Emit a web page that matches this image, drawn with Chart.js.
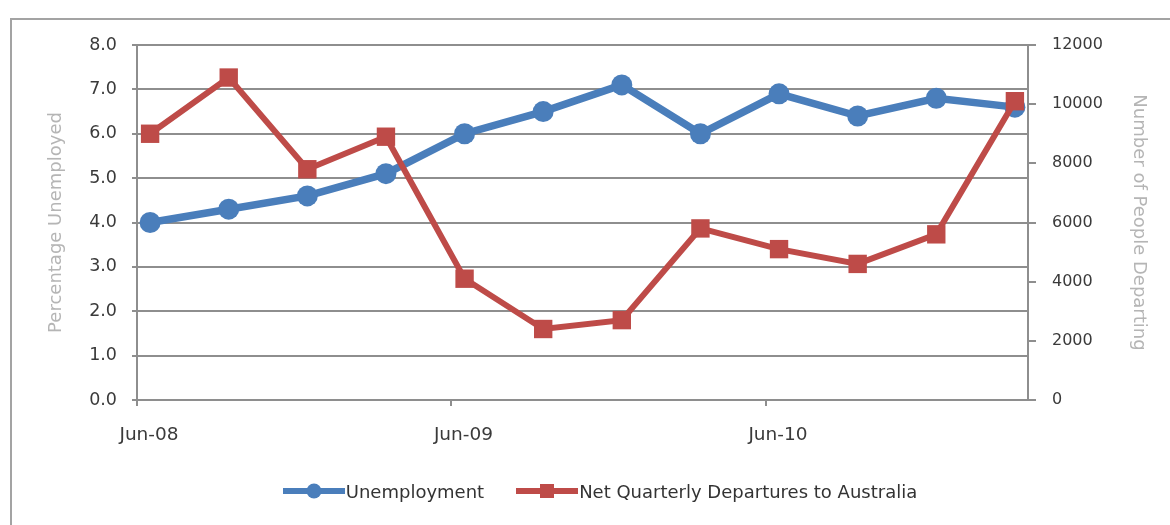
<!DOCTYPE html>
<html>
<head>
<meta charset="utf-8">
<script src="https://cdn.jsdelivr.net/npm/chart.js@4"></script>
<style>
  html, body { margin: 0; padding: 0; background: #fff; }
  body { width: 1170px; height: 525px; position: relative; overflow: hidden; font-family: "DejaVu Sans", sans-serif; }
  #frame { position: absolute; left: 10px; top: 18px; width: 1200px; height: 560px; border-left: 2px solid #a3a3a3; border-top: 2px solid #a3a3a3; }
  #wrap { position: absolute; left: 0; top: 0; width: 1170px; height: 525px; }
  #legend { position: absolute; left: 15px; top: 480px; width: 1170px; text-align: center; font-size: 18px; color: #333; white-space: nowrap; }
  .item { display: inline-flex; align-items: center; margin: 0 16px; }
  .item svg { margin-right: 1px; }
</style>
</head>
<body>
<div id="frame"></div>
<div id="wrap"><canvas id="c" width="1170" height="525"></canvas></div>
<div id="legend"></div>
<script>
// ---- data ----
const categories = ['Jun-08','Sep-08','Dec-08','Mar-09','Jun-09','Sep-09','Dec-09','Mar-10','Jun-10','Sep-10','Dec-10','Mar-11'];
const unemployment = [4.0, 4.3, 4.6, 5.1, 6.0, 6.5, 7.1, 6.0, 6.9, 6.4, 6.8, 6.6];
const departures = [9000, 10900, 7800, 8900, 4100, 2400, 2700, 5800, 5100, 4600, 5600, 10100];
const xTickLabels = ['Jun-08', 'Jun-09', 'Jun-10'];
const leftTicks = [0, 1, 2, 3, 4, 5, 6, 7, 8];
const rightTicks = [0, 2000, 4000, 6000, 8000, 10000, 12000];
const seriesNames = ['Unemployment', 'Net Quarterly Departures to Australia'];

const BLUE = '#4a7ebb';
const RED = '#be4b48';
const GRID = '#8e8e8e';

const MONTHS = ['Jan','Feb','Mar','Apr','May','Jun','Jul','Aug','Sep','Oct','Nov','Dec'];
function monthIndex(label) { // months since first category
  const [m, y] = label.split('-');
  const base = categories[0].split('-');
  return (2000 + +y) * 12 + MONTHS.indexOf(m) - ((2000 + +base[1]) * 12 + MONTHS.indexOf(base[0]));
}
const xMax = monthIndex(categories[categories.length - 1]) + 1;
const blueData = categories.map((c, i) => ({ x: monthIndex(c) + 0.5, y: unemployment[i] }));
const redData = categories.map((c, i) => ({ x: monthIndex(c) + 0.5, y: departures[i] }));
const xTickValues = xTickLabels.map(monthIndex);

new Chart(document.getElementById('c'), {
  type: 'line',
  data: {
    datasets: [
      { label: seriesNames[0], data: blueData, yAxisID: 'y', borderColor: BLUE, backgroundColor: BLUE,
        borderWidth: 7.5, pointRadius: 10.5, pointStyle: 'circle', pointBackgroundColor: BLUE, pointBorderColor: BLUE,
        pointBorderWidth: 0, tension: 0, order: 2 },
      { label: seriesNames[1], data: redData, yAxisID: 'y1', borderColor: RED, backgroundColor: RED,
        borderWidth: 6, pointRadius: 13, pointStyle: 'rect', pointBackgroundColor: RED, pointBorderColor: RED,
        pointBorderWidth: 0, tension: 0, order: 1 }
    ]
  },
  options: {
    responsive: false,
    animation: false,
    layout: { padding: { left: 0, right: 0, top: 45, bottom: 75 } },
    plugins: { legend: { display: false }, tooltip: { enabled: false } },
    scales: {
      x: {
        type: 'linear', min: 0, max: xMax,
        afterBuildTicks: s => { s.ticks = xTickValues.map(v => ({ value: v })); },
        afterFit: s => { s.height = 50; },
        grid: { drawOnChartArea: false, drawTicks: true, tickLength: 6, color: GRID, lineWidth: 2 },
        border: { color: GRID, width: 2 },
        ticks: { font: { family: 'DejaVu Sans', size: 18.5 }, color: '#3a3a3a', padding: 18, labelOffset: 12,
          maxRotation: 0, autoSkip: false,
          callback: v => xTickLabels[xTickValues.indexOf(v)] }
      },
      y: {
        position: 'left', min: 0, max: 8,
        afterBuildTicks: s => { s.ticks = leftTicks.map(v => ({ value: v })); },
        afterFit: s => { s.width = 137; },
        grid: { color: GRID, lineWidth: 2, tickLength: 5 },
        border: { color: GRID, width: 2 },
        ticks: { font: { family: 'DejaVu Sans', size: 17.5 }, color: '#3a3a3a', padding: 15, callback: v => v.toFixed(1) },
        title: { display: true, text: 'Percentage Unemployed', color: '#b5b5b5',
          font: { family: 'DejaVu Sans', size: 18 }, padding: { top: 46, bottom: 0 } }
      },
      y1: {
        position: 'right', min: 0, max: 12000,
        afterBuildTicks: s => { s.ticks = rightTicks.map(v => ({ value: v })); },
        afterFit: s => { s.width = 142; },
        grid: { drawOnChartArea: false, color: GRID, lineWidth: 2, tickLength: 8 },
        border: { color: GRID, width: 2 },
        ticks: { font: { family: 'DejaVu Sans', size: 16 }, color: '#3a3a3a', padding: 16, callback: v => String(v) },
        title: { display: true, text: 'Number of People Departing', color: '#b5b5b5',
          font: { family: 'DejaVu Sans', size: 18 }, padding: { top: 21, bottom: 0 } }
      }
    }
  }
});

// HTML legend
const legend = document.getElementById('legend');
function symbol(color, shape) {
  const w = 62, h = 22, cy = 11;
  const mark = shape === 'circle'
    ? `<circle cx="${w/2}" cy="${cy}" r="7.5" fill="${color}"/>`
    : `<rect x="${w/2-7}" y="${cy-7}" width="14" height="14" fill="${color}"/>`;
  return `<svg width="${w}" height="${h}"><line x1="0" y1="${cy}" x2="${w}" y2="${cy}" stroke="${color}" stroke-width="6"/>${mark}</svg>`;
}
legend.innerHTML =
  `<span class="item">${symbol(BLUE, 'circle')}<span>${seriesNames[0]}</span></span>` +
  `<span class="item">${symbol(RED, 'rect')}<span>${seriesNames[1]}</span></span>`;
</script>
</body>
</html>
